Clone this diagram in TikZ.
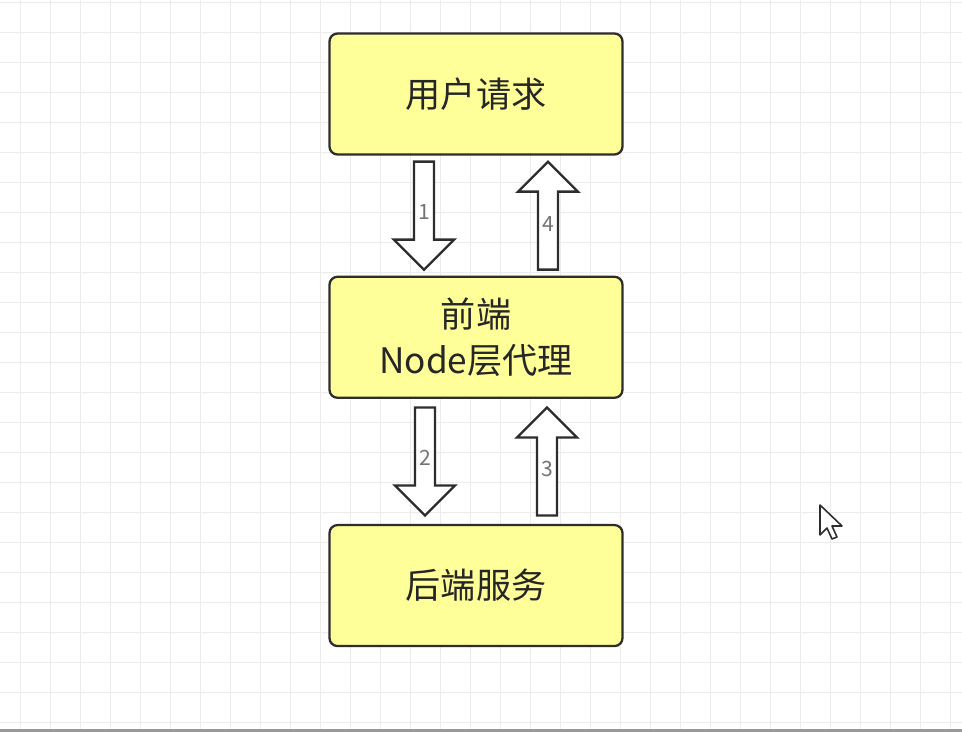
\documentclass[tikz,border=0pt]{standalone}
\usepackage{fontspec}
\setmainfont{Noto Sans CJK SC}
\usepackage{tikz}
\usetikzlibrary{positioning,calc}

\definecolor{boxyellow}{RGB}{255,255,153}
\definecolor{boxline}{RGB}{45,45,45}
\definecolor{gridgray}{RGB}{236,236,236}

\tikzset{
  layer/.style={draw=boxline, line width=1.3pt, rounded corners=0.16cm, fill=boxyellow,
    minimum width=5.86cm, minimum height=2.42cm, align=center,
    font=\fontsize{20}{26}\selectfont, text=black!85},
  blockline/.style={draw=boxline, line width=1.3pt, fill=white, line join=miter},
  numlabel/.style={font=\fontsize{12}{14}\selectfont, text=black!55, inner sep=0pt},
  pics/blockdown/.style={code={
    \draw[blockline] (-0.2,1.08) -- (0.2,1.08) -- (0.2,-0.48) -- (0.6,-0.48) -- (0,-1.08)
      -- (-0.6,-0.48) -- (-0.2,-0.48) -- cycle;
    \node[numlabel] (-num) at (0,0.08) {#1};
  }},
  pics/blockup/.style={code={
    \draw[blockline] (-0.2,-1.08) -- (0.2,-1.08) -- (0.2,0.48) -- (0.6,0.48) -- (0,1.08)
      -- (-0.6,0.48) -- (-0.2,0.48) -- cycle;
    \node[numlabel] (-num) at (0,-0.16) {#1};
  }},
}

\begin{document}
\begin{tikzpicture}[node distance=2.4cm]

% Background
\useasboundingbox (0,0) rectangle (19.24,-14.64);
\fill[white] (0,0) rectangle (19.24,-14.64);
\begin{scope}
  \clip (0,0) rectangle (19.24,-14.64);
  \draw[gridgray, line width=0.5pt, xshift=0.4cm, yshift=-0.04cm] (-0.6,-15.0) grid[step=0.6cm] (19.2,0.6);
\end{scope}
\fill[black!40] (0,-14.57) rectangle (19.24,-14.64);

% Nodes
\node (user) [layer] at (9.52,-1.88) {用户请求};
\node (proxy) [layer, below=2.4cm of user] {前端\\Node层代理};
\node (backend) [layer, below=2.5cm of proxy] {后端服务};

% Arrows
\pic (a1) at ([xshift=-1.04cm]$(user.south)!0.5!(proxy.north)$) {blockdown=1};
\pic (a4) at ([xshift=1.44cm]$(user.south)!0.5!(proxy.north)$) {blockup=4};
\pic (a2) at ([xshift=-1.02cm]$(proxy.south)!0.5!(backend.north)$) {blockdown=2};
\pic (a3) at ([xshift=1.42cm]$(proxy.south)!0.5!(backend.north)$) {blockup=3};

% Cursor
\draw[boxline, line width=0.9pt, fill=white, line join=round, shift={(16.4,-10.1)}, x=0.02cm, y=-0.02cm]
  (0,0) -- (0,30) -- (7,23) -- (12,34) -- (17,32) -- (12,21) -- (22,21) -- cycle;

\end{tikzpicture}
\end{document}
